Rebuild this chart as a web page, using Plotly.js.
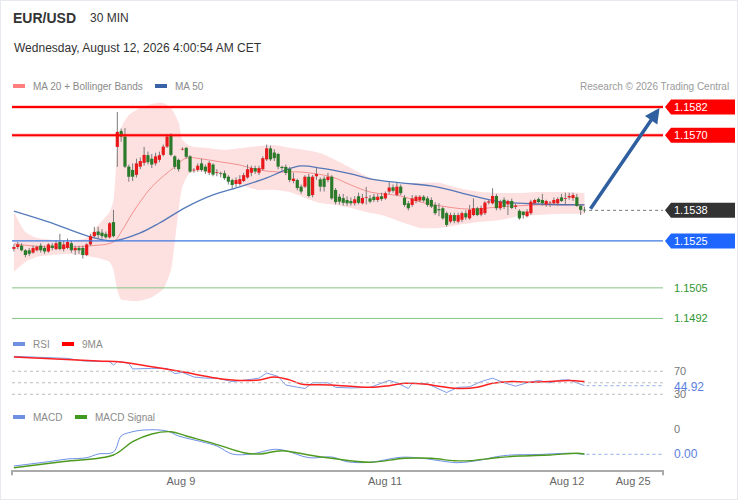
<!DOCTYPE html>
<html><head><meta charset="utf-8">
<script src="https://cdn.plot.ly/plotly-3.0.1.min.js"></script>
<style>
html,body{margin:0;padding:0;background:#fff}
#wrap{position:relative;width:738px;height:500px}
#chart{width:738px;height:500px}
#frame{position:absolute;left:0;top:0;width:736px;height:498px;border:1px solid #e6e9ed;pointer-events:none}
</style>
</head><body>
<div id="wrap"><div id="chart"></div><div id="frame"></div></div>
<script>
// ---------- DATA ----------
const symbol = "EUR/USD";
const period = "30 MIN";
const stamp = "Wednesday, August 12, 2026 4:00:54 AM CET";
const tickPos = [43.6, 96.9, 144.4, 161.7];
const tickLabels = ["Aug 9", "Aug 11", "Aug 12", "Aug 25"];

const opens = [1.15216,1.15224,1.15230,1.15210,1.15210,1.15200,1.15210,1.15230,1.15220,1.15205,
1.15230,1.15215,1.15245,1.15215,1.15220,1.15240,1.15210,1.15220,1.15220,1.15190,
1.15235,1.15270,1.15290,1.15285,1.15280,1.15265,1.15330,1.15650,1.15718,1.15694,
1.15566,1.15552,1.15531,1.15566,1.15582,1.15615,1.15600,1.15580,1.15595,1.15616,
1.15651,1.15700,1.15610,1.15595,1.15640,1.15646,1.15610,1.15550,1.15552,1.15580,
1.15566,1.15540,1.15575,1.15540,1.15538,1.15538,1.15523,1.15509,1.15492,1.15492,
1.15505,1.15520,1.15540,1.15560,1.15540,1.15555,1.15597,1.15644,1.15626,1.15620,
1.15565,1.15565,1.15556,1.15505,1.15509,1.15481,1.15481,1.15523,1.15445,1.15525,
1.15512,1.15515,1.15509,1.15523,1.15467,1.15438,1.15432,1.15424,1.15420,1.15410,
1.15440,1.15410,1.15433,1.15431,1.15438,1.15424,1.15440,1.15431,1.15460,1.15478,
1.15446,1.15481,1.15434,1.15410,1.15403,1.15420,1.15422,1.15438,1.15431,1.15424,
1.15403,1.15385,1.15389,1.15368,1.15332,1.15360,1.15332,1.15340,1.15368,1.15346,
1.15360,1.15389,1.15362,1.15368,1.15413,1.15410,1.15441,1.15389,1.15425,1.15405,
1.15420,1.15395,1.15378,1.15375,1.15355,1.15368,1.15410,1.15428,1.15424,1.15405,
1.15410,1.15410,1.15410,1.15435,1.15430,1.15435,1.15432,1.15436,1.15399,1.15382];

const highs = [1.15235,1.15245,1.15240,1.15215,1.15220,1.15230,1.15230,1.15240,1.15230,1.15240,
1.15240,1.15250,1.15280,1.15250,1.15260,1.15250,1.15230,1.15230,1.15230,1.15240,
1.15280,1.15310,1.15310,1.15300,1.15290,1.15330,1.15382,1.15799,1.15728,1.15730,
1.15575,1.15580,1.15600,1.15605,1.15650,1.15630,1.15620,1.15625,1.15630,1.15660,
1.15705,1.15708,1.15615,1.15600,1.15648,1.15650,1.15615,1.15560,1.15580,1.15600,
1.15575,1.15590,1.15580,1.15555,1.15545,1.15550,1.15530,1.15515,1.15520,1.15530,
1.15540,1.15575,1.15570,1.15570,1.15570,1.15610,1.15660,1.15655,1.15640,1.15625,
1.15570,1.15575,1.15565,1.15540,1.15515,1.15490,1.15530,1.15535,1.15530,1.15560,
1.15520,1.15525,1.15540,1.15530,1.15475,1.15450,1.15450,1.15440,1.15435,1.15440,
1.15455,1.15450,1.15480,1.15445,1.15450,1.15450,1.15455,1.15460,1.15500,1.15490,
1.15500,1.15490,1.15445,1.15420,1.15445,1.15445,1.15445,1.15445,1.15440,1.15435,
1.15415,1.15410,1.15395,1.15375,1.15370,1.15370,1.15370,1.15375,1.15380,1.15403,
1.15431,1.15395,1.15400,1.15420,1.15425,1.15474,1.15450,1.15425,1.15435,1.15425,
1.15430,1.15410,1.15385,1.15375,1.15385,1.15425,1.15430,1.15435,1.15450,1.15425,
1.15420,1.15435,1.15435,1.15450,1.15455,1.15455,1.15455,1.15450,1.15405,1.15395];

const lows = [1.15205,1.15215,1.15205,1.15180,1.15185,1.15195,1.15205,1.15200,1.15195,1.15200,
1.15210,1.15210,1.15210,1.15205,1.15215,1.15200,1.15190,1.15195,1.15175,1.15185,
1.15230,1.15265,1.15260,1.15260,1.15260,1.15260,1.15265,1.15565,1.15672,1.15560,
1.15502,1.15505,1.15520,1.15555,1.15570,1.15575,1.15560,1.15570,1.15585,1.15610,
1.15645,1.15610,1.15555,1.15545,1.15635,1.15600,1.15540,1.15540,1.15545,1.15545,
1.15535,1.15530,1.15525,1.15525,1.15520,1.15510,1.15490,1.15475,1.15480,1.15485,
1.15500,1.15515,1.15525,1.15535,1.15530,1.15550,1.15590,1.15590,1.15590,1.15555,
1.15550,1.15530,1.15500,1.15495,1.15465,1.15450,1.15475,1.15435,1.15435,1.15510,
1.15460,1.15460,1.15500,1.15425,1.15405,1.15405,1.15400,1.15399,1.15400,1.15400,
1.15405,1.15405,1.15405,1.15410,1.15415,1.15415,1.15420,1.15425,1.15450,1.15455,
1.15440,1.15445,1.15395,1.15380,1.15395,1.15410,1.15415,1.15415,1.15395,1.15390,
1.15360,1.15355,1.15340,1.15310,1.15325,1.15325,1.15325,1.15330,1.15340,1.15340,
1.15355,1.15355,1.15355,1.15360,1.15405,1.15405,1.15380,1.15380,1.15385,1.15360,
1.15385,1.15385,1.15340,1.15345,1.15350,1.15360,1.15405,1.15410,1.15400,1.15395,
1.15395,1.15405,1.15400,1.15415,1.15405,1.15425,1.15420,1.15395,1.15360,1.15370];

const closes = [1.15224,1.15235,1.15210,1.15190,1.15195,1.15220,1.15225,1.15210,1.15205,1.15235,
1.15220,1.15240,1.15215,1.15235,1.15245,1.15210,1.15220,1.15210,1.15190,1.15235,
1.15270,1.15288,1.15275,1.15270,1.15265,1.15325,1.15270,1.15714,1.15694,1.15566,
1.15523,1.15523,1.15580,1.15590,1.15616,1.15585,1.15575,1.15610,1.15615,1.15651,
1.15694,1.15616,1.15565,1.15555,1.15641,1.15608,1.15545,1.15553,1.15570,1.15552,
1.15546,1.15582,1.15532,1.15542,1.15535,1.15517,1.15502,1.15488,1.15509,1.15513,
1.15530,1.15555,1.15560,1.15545,1.15560,1.15602,1.15644,1.15597,1.15602,1.15566,
1.15560,1.15539,1.15509,1.15515,1.15475,1.15460,1.15523,1.15441,1.15523,1.15535,
1.15481,1.15480,1.15523,1.15431,1.15415,1.15417,1.15412,1.15410,1.15410,1.15427,
1.15412,1.15433,1.15436,1.15417,1.15424,1.15438,1.15428,1.15453,1.15477,1.15463,
1.15481,1.15453,1.15403,1.15389,1.15431,1.15438,1.15438,1.15422,1.15403,1.15396,
1.15368,1.15380,1.15346,1.15318,1.15360,1.15335,1.15360,1.15368,1.15350,1.15382,
1.15389,1.15360,1.15390,1.15413,1.15418,1.15441,1.15389,1.15417,1.15395,1.15420,
1.15390,1.15400,1.15346,1.15360,1.15375,1.15417,1.15424,1.15415,1.15410,1.15420,
1.15413,1.15424,1.15428,1.15420,1.15432,1.15441,1.15445,1.15399,1.15382,1.15380];

const bbIdx = [0,3,6,10,15,19,22,25,26,27,28,30,33,36,39,41,43,44,46,50,55,60,64,68,72,76,80,84,88,92,96,101,106,111,116,122,127,132,137,143,149];
const bbUpper = [1.15373,1.15288,1.15263,1.15254,1.15250,1.15263,1.15318,1.15373,1.15424,1.15637,1.15731,1.15786,1.15816,1.15833,1.15837,1.15816,1.15756,1.15680,1.15654,1.15646,1.15637,1.15646,1.15654,1.15658,1.15646,1.15637,1.15624,1.15594,1.15560,1.15526,1.15505,1.15492,1.15497,1.15497,1.15475,1.15458,1.15454,1.15454,1.15458,1.15458,1.15454];
const bbLower = [1.15118,1.15160,1.15182,1.15190,1.15194,1.15186,1.15177,1.15160,1.15126,1.15041,1.15000,1.14995,1.14995,1.15010,1.15045,1.15126,1.15380,1.15480,1.15540,1.15543,1.15526,1.15484,1.15467,1.15467,1.15458,1.15433,1.15411,1.15403,1.15390,1.15373,1.15360,1.15331,1.15305,1.15305,1.15318,1.15331,1.15339,1.15356,1.15360,1.15365,1.15365];

const ma20Idx = [0,9,20,26,28,31,36,42,45,49,54,59,64,69,75,83,88,93,101,106,111,119,127,137,149];
const ma20 = [1.15237,1.15224,1.15229,1.15246,1.15288,1.15369,1.15480,1.15565,1.15603,1.15599,1.15586,1.15573,1.15552,1.15543,1.15543,1.15522,1.15488,1.15458,1.15441,1.15416,1.15400,1.15385,1.15395,1.15403,1.15403];

const ma50Idx = [0,9,20,26,33,38,45,52,59,66,71,75,80,83,88,93,101,109,116,122,127,137,149];
const ma50 = [1.15377,1.15331,1.15267,1.15250,1.15284,1.15326,1.15394,1.15446,1.15480,1.15518,1.15552,1.15569,1.15560,1.15552,1.15535,1.15514,1.15497,1.15484,1.15458,1.15433,1.15416,1.15407,1.15403];

const rsiIdx = [0,7,14,18,22,25,26,27,30,31,36,40,42,44,47,50,53,57,62,64,66,69,71,75,76,78,82,84,88,93,96,98,100,103,104,108,110,113,116,119,122,125,128,131,134,137,140,143,145,147,149];
const rsi = [96,94,92.4,88,87,86.5,80.8,87,84,74,75,75,66,68,60,58,58,52,56,58,67,61,46,42,40,50,50,42,41,42,49,54,50,40,49,48,42,33,42,43,52,58,50,44,50,54,50,55,55,50,44.92];
const rsiMaIdx = [0,22,28,36,44,53,59,64,68,72,75,83,93,98,102,107,110,116,121,125,130,135,140,145,149];
const rsiMa = [95,88,86,78,69,58,54,55,60,55,48,46,42,45,49,48,45,40,42,49,52,51,52,54,52];
const rsiLevels = [70, 50, 30];

const macdIdx = [0,9,14,19,22,26,28,30,34,40,43,49,53,57,62,68,71,77,83,87,93,101,106,113,116,122,126,130,137,145,149];
const macd = [-0.00037,-0.000327,-0.0003,-0.000287,-0.00025,-0.00023,-0.00007,-0.000037,-0.00001,-0.00002,-0.00007,-0.000127,-0.00017,-0.00025,-0.00025,-0.000203,-0.000217,-0.000287,-0.00028,-0.000327,-0.000333,-0.000283,-0.00029,-0.000327,-0.000337,-0.00031,-0.000277,-0.00026,-0.000255,-0.000243,-0.000253];
const sigIdx = [0,13,26,31,36,41,45,52,60,64,70,77,83,93,102,109,115,119,126,132,140,147,149];
const macdSignal = [-0.000387,-0.000325,-0.00026,-0.000127,-0.00005,-0.000027,-0.00007,-0.000143,-0.000237,-0.00025,-0.000217,-0.00026,-0.000293,-0.000333,-0.000293,-0.000293,-0.000317,-0.000317,-0.000287,-0.00027,-0.00026,-0.000243,-0.00025];

const resistances = [1.1582, 1.1570];
const pivot = 1.1525;
const supports = [1.1505, 1.1492];
const target = 1.1582;

// ---------- GEOMETRY HELPERS (layout only) ----------
const Lp = 12, Rp = 663, Tp = 95, Bp = 470;
const px = x => (x - Lp) / (Rp - Lp);
const py = y => (Bp - y) / (Bp - Tp);
const FONT = "Liberation Sans, Arial, Helvetica, sans-serif";
const UP = '#e8191b', DOWN = '#2a7a2a';
const MIN_BODY = 0.00003;

const idx = opens.map((_, i) => i);
const last = idx.length - 1;
const lastClose = closes[last];

// wicks and bodies as vertical segments
const wx = [], wy = [], ux = [], uy = [], dx = [], dy = [];
idx.forEach(i => {
  wx.push(i, i, null); wy.push(lows[i], highs[i], null);
  let lo = Math.min(opens[i], closes[i]), hi = Math.max(opens[i], closes[i]);
  if (hi - lo < MIN_BODY) { const m = (hi + lo) / 2; lo = m - MIN_BODY / 2; hi = m + MIN_BODY / 2; }
  if (closes[i] >= opens[i]) { ux.push(i, i, null); uy.push(lo, hi, null); }
  else { dx.push(i, i, null); dy.push(lo, hi, null); }
});

const traces = [
  {x: bbIdx, y: bbUpper, type: 'scatter', mode: 'lines', line: {width: 0, shape: 'spline', smoothing: 0.6}, hoverinfo: 'skip'},
  {x: bbIdx, y: bbLower, type: 'scatter', mode: 'lines', line: {width: 0, shape: 'spline', smoothing: 0.6}, fill: 'tonexty', fillcolor: '#fde1e1', hoverinfo: 'skip'},
  {x: ma20Idx, y: ma20, type: 'scatter', mode: 'lines', line: {color: 'rgba(240,110,110,0.7)', width: 1, shape: 'spline'}, hoverinfo: 'skip'},
  {x: ma50Idx, y: ma50, type: 'scatter', mode: 'lines', line: {color: 'rgba(55,100,175,0.85)', width: 1.3, shape: 'spline'}, hoverinfo: 'skip'},
  {x: wx, y: wy, type: 'scatter', mode: 'lines', line: {color: '#7a7a7a', width: 1}, hoverinfo: 'skip', connectgaps: false},
  {x: ux, y: uy, type: 'scatter', mode: 'lines', line: {color: UP, width: 3.2}, hoverinfo: 'skip', connectgaps: false},
  {x: dx, y: dy, type: 'scatter', mode: 'lines', line: {color: DOWN, width: 3.2}, hoverinfo: 'skip', connectgaps: false},
  {x: rsiIdx, y: rsi, yaxis: 'y2', type: 'scatter', mode: 'lines', line: {color: '#7d9be6', width: 1}, hoverinfo: 'skip'},
  {x: rsiMaIdx, y: rsiMa, yaxis: 'y2', type: 'scatter', mode: 'lines', line: {color: '#ff2020', width: 1.5, shape: 'spline'}, hoverinfo: 'skip'},
  {x: macdIdx, y: macd, yaxis: 'y3', type: 'scatter', mode: 'lines', line: {color: '#6d8fe6', width: 1, shape: 'spline'}, hoverinfo: 'skip'},
  {x: sigIdx, y: macdSignal, yaxis: 'y3', type: 'scatter', mode: 'lines', line: {color: '#4d9a1f', width: 1.4, shape: 'spline'}, hoverinfo: 'skip'}
];

const shapes = [];
const annotations = [];

function hline(y, color, width, dash, yref) {
  shapes.push({type: 'line', xref: 'paper', yref: yref || 'y', x0: 0, x1: 1, y0: y, y1: y, line: {color: color, width: width, dash: dash || 'solid'}});
}
function priceBox(y, color) {
  shapes.push({type: 'path', xref: 'paper', yref: 'y', xsizemode: 'pixel', ysizemode: 'pixel', xanchor: 1, yanchor: y,
    path: 'M2,0 L8,7.5 L72,7.5 L72,-7.5 L8,-7.5 Z', fillcolor: color, line: {width: 0}});
  annotations.push({xref: 'paper', yref: 'y', x: px(672), y: y, xanchor: 'left', yanchor: 'middle', text: y.toFixed(4), showarrow: false, font: {family: FONT, size: 11, color: '#ffffff'}});
}
function sideText(y, yref, text, color, size) {
  annotations.push({xref: 'paper', yref: yref, x: px(672), y: y, xanchor: 'left', yanchor: 'middle', text: text, showarrow: false, font: {family: FONT, size: size || 11, color: color}});
}

// resistance lines
resistances.forEach(r => { hline(r, 'rgba(255,0,0,0.18)', 4); hline(r, '#ff0000', 2); priceBox(r, '#ff0000'); });
// pivot
hline(pivot, '#3b78e0', 1.2); priceBox(pivot, '#1f66ff');
// supports
supports.forEach(s => { hline(s, '#86c486', 1); sideText(s, 'y', s.toFixed(4), '#2f962f', 11); });
// current price
shapes.push({type: 'line', xref: 'x', yref: 'y', x0: last + 1.2, x1: 169.5, y0: lastClose, y1: lastClose, line: {color: '#777', width: 1, dash: 'dot'}});
priceBox(lastClose, '#333333');

// RSI levels
rsiLevels.forEach(v => hline(v, '#bdbdbd', 1, 'dot', 'y2'));
sideText(70, 'y2', '70', '#777', 11);
sideText(30, 'y2', '30', '#777', 11);
shapes.push({type: 'line', xref: 'x', yref: 'y2', x0: last + 0.5, x1: 169.5, y0: rsi[rsi.length - 1], y1: rsi[rsi.length - 1], line: {color: '#a9bcef', width: 1.2, dash: 'dot'}});
sideText(rsi[rsi.length - 1] - 2, 'y2', rsi[rsi.length - 1].toFixed(2), '#5a7fe0', 12);

// MACD
const lastMacd = macd[macd.length - 1];
sideText(0, 'y3', '0', '#777', 11);
shapes.push({type: 'line', xref: 'x', yref: 'y3', x0: last + 0.5, x1: 169.5, y0: lastMacd, y1: lastMacd, line: {color: '#a9bcef', width: 1.2, dash: 'dot'}});
sideText(lastMacd, 'y3', Math.abs(lastMacd).toFixed(2), '#5a7fe0', 12);

// axis end ticks
[0, 1].forEach(xx => shapes.push({type: 'line', xref: 'paper', yref: 'paper', x0: xx, x1: xx, y0: 0, y1: -0.014, line: {color: '#aaaaaa', width: 2}}));

// legend swatches
function swatch(x, y, color) {
  shapes.push({type: 'rect', xref: 'paper', yref: 'paper', x0: px(x), x1: px(x + 12), y0: py(y + 2), y1: py(y - 2), fillcolor: color, line: {width: 0}});
}
function label(x, y, text, size, color, opts) {
  annotations.push(Object.assign({xref: 'paper', yref: 'paper', x: px(x), y: py(y), xanchor: 'left', yanchor: 'middle', text: text, showarrow: false, font: {family: FONT, size: size, color: color}}, opts || {}));
}
swatch(13, 86, '#ff7f7f'); label(31, 86, 'MA 20 + Bollinger Bands', 10, '#8a8a8a');
swatch(155, 86, '#3a62a6'); label(173, 86, 'MA 50', 10, '#8a8a8a');
label(731, 86, 'Research © 2026 Trading Central', 10, '#9a9a9a', {xanchor: 'right'});
swatch(13, 344, '#6f8fe0'); label(31, 344, 'RSI', 10, '#8a8a8a');
swatch(62, 344, '#ff0000'); label(80, 344, '9MA', 10, '#8a8a8a');
swatch(13, 417, '#6f8fe0'); label(31, 417, 'MACD', 10, '#8a8a8a');
swatch(75, 417, '#3f9a1f'); label(93, 417, 'MACD Signal', 10, '#8a8a8a');

// header
label(11, 18, '<b>' + symbol + '</b>', 14, '#333333');
label(88, 18, period, 12, '#333333');
label(12, 48, stamp, 12, '#333333');

// forecast arrow
annotations.push({xref: 'x', yref: 'y', x: 168.6, y: target - 0.00004, axref: 'x', ayref: 'y', ax: last + 1.3, ay: lastClose,
  text: '', showarrow: true, arrowhead: 2, arrowsize: 0.85, arrowwidth: 3.5, arrowcolor: '#2f5f9f', standoff: 0, startstandoff: 0});

const layout = {
  width: 738, height: 500,
  margin: {l: Lp, r: 738 - Rp, t: Tp, b: 500 - Bp, pad: 0},
  paper_bgcolor: '#ffffff', plot_bgcolor: '#ffffff',
  showlegend: false,
  font: {family: FONT, color: '#666'},
  xaxis: {range: [-0.5, 169.5], anchor: 'y3', showline: true, linecolor: '#aaaaaa', linewidth: 2, ticks: '',
          tickvals: tickPos, ticktext: tickLabels, showgrid: false, zeroline: false,
          tickfont: {family: FONT, size: 11, color: '#666'}, fixedrange: true},
  yaxis: {domain: [0.3867, 1], range: [1.14892, 1.15871], visible: false, fixedrange: true},
  yaxis2: {domain: [0.156, 0.3093], range: [0, 100], visible: false, fixedrange: true},
  yaxis3: {domain: [0, 0.12], range: [-0.00041, 0.00004], visible: false, fixedrange: true},
  shapes: shapes,
  annotations: annotations
};

Plotly.newPlot('chart', traces, layout, {displayModeBar: false, staticPlot: true});
</script>
</body></html>
